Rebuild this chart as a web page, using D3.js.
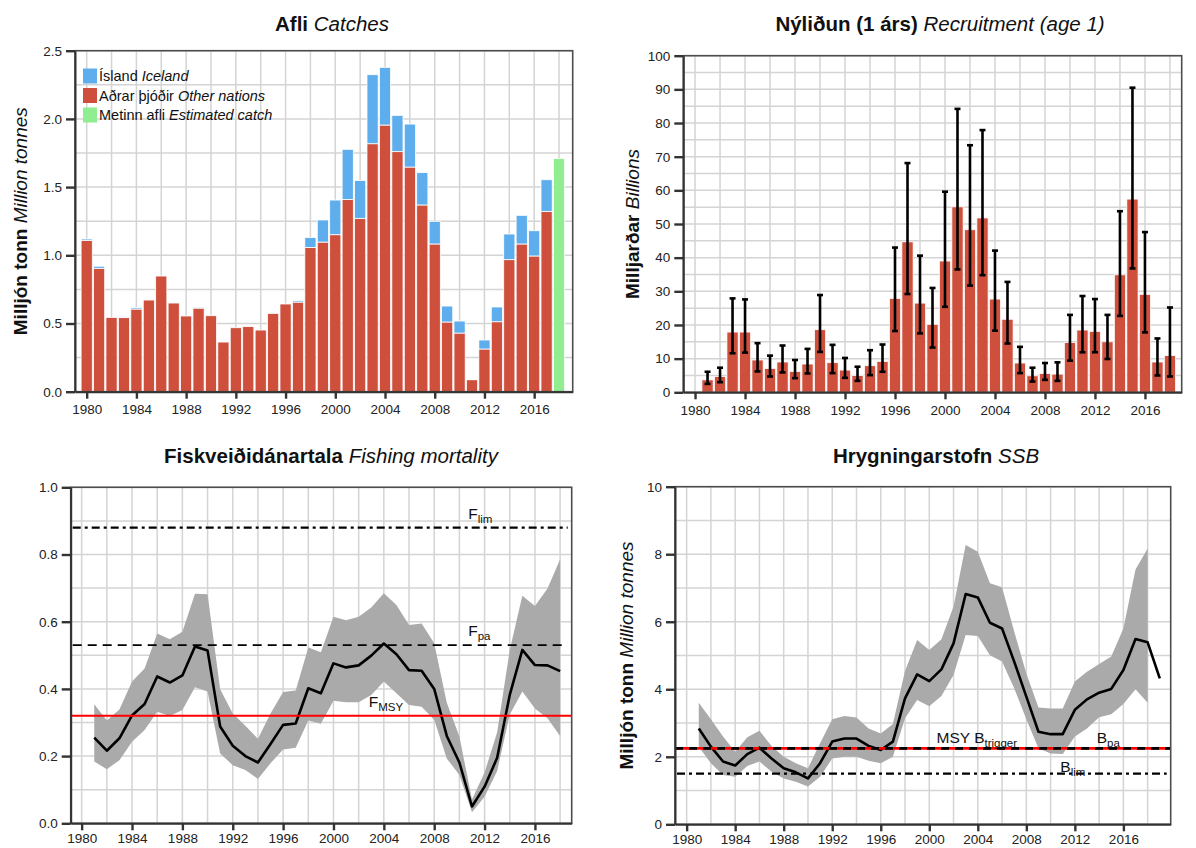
<!DOCTYPE html>
<html>
<head>
<meta charset="utf-8">
<script src="https://cdn.jsdelivr.net/npm/d3@7"></script>
<style>
  body { margin: 0; background: #fff; }
  svg { display: block; font-family: "Liberation Sans", Arial, Helvetica, sans-serif; }
</style>
</head>
<body>
<svg id="chart" width="1196" height="848"></svg>
<script>
// ---- data ----
const catchYears = [1980,1981,1982,1983,1984,1985,1986,1987,1988,1989,1990,1991,1992,1993,1994,1995,1996,1997,1998,1999,
  2000,2001,2002,2003,2004,2005,2006,2007,2008,2009,2010,2011,2012,2013,2014,2015,2016,2017]
const otherNations = [1.11,0.905,0.545,0.543,0.606,0.672,0.848,0.65,0.555,0.613,0.557,0.364,0.469,0.477,0.452,0.574,0.643,0.657,1.058,1.097,
  1.151,1.41,1.271,1.818,1.955,1.76,1.647,1.369,1.083,0.511,0.43,0.088,0.313,0.513,0.968,1.083,0.995,1.322]
const iceland = [0.01,0.015,0,0.007,0.01,0,0,0,0,0.007,0,0,0,0,0,0,0,0.01,0.073,0.162,
  0.254,0.367,0.278,0.506,0.423,0.266,0.315,0.237,0.166,0.117,0.088,0.005,0.066,0.108,0.188,0.21,0.185,0.232]
const estYears = [2018]
const estCatch = [1.71]

const recYears = [1981,1982,1983,1984,1985,1986,1987,1988,1989,1990,1991,1992,1993,1994,1995,1996,1997,1998,1999,2000,
  2001,2002,2003,2004,2005,2006,2007,2008,2009,2010,2011,2012,2013,2014,2015,2016,2017,2018]
const recruits = [3.7,4.7,17.9,17.9,9.6,7.1,9.0,6.2,8.4,18.6,8.8,6.6,5.0,7.9,9.2,27.9,44.7,26.5,20.2,39.0,
  55.1,48.3,51.8,27.7,21.7,8.7,4.9,5.6,5.4,14.8,18.5,18.1,15.0,34.9,57.4,29.1,9.0,10.9]
const recHigh = [6.1,7.3,27.9,27.6,14.6,10.9,13.9,9.6,12.9,28.9,14.1,10.2,7.6,12.5,14.2,43.0,68.1,40.6,31.0,59.6,
  84.2,73.4,77.9,42.1,32.8,13.5,7.3,8.7,8.9,23.0,28.6,27.7,23.0,53.8,90.5,47.6,16.0,25.2]
const recLow = [2.5,3.0,11.6,11.8,6.2,4.7,5.9,4.2,5.6,12.0,5.7,4.3,3.4,5.1,6.1,18.2,29.2,17.5,13.3,25.4,
  36.5,31.7,34.8,18.3,14.5,5.7,3.2,3.7,3.4,9.4,11.9,11.9,9.9,22.7,36.8,17.8,5.0,4.7]

const fYears = recYears
const fbar = [0.255,0.216,0.253,0.321,0.355,0.437,0.419,0.44,0.526,0.514,0.288,0.231,0.2,0.181,0.236,0.293,0.297,0.402,0.387,0.476,
  0.464,0.47,0.499,0.535,0.503,0.456,0.454,0.4,0.26,0.181,0.05,0.109,0.195,0.382,0.516,0.471,0.47,0.453]
const fHigh = [0.354,0.306,0.339,0.422,0.461,0.565,0.548,0.57,0.683,0.682,0.399,0.327,0.29,0.252,0.327,0.391,0.395,0.523,0.509,0.615,
  0.604,0.615,0.642,0.685,0.65,0.59,0.595,0.536,0.359,0.258,0.071,0.151,0.271,0.516,0.677,0.647,0.699,0.786]
const fLow = [0.184,0.161,0.188,0.243,0.278,0.332,0.319,0.337,0.405,0.392,0.208,0.173,0.159,0.132,0.179,0.22,0.225,0.306,0.296,0.365,
  0.36,0.36,0.382,0.422,0.387,0.352,0.347,0.308,0.193,0.144,0.033,0.079,0.156,0.324,0.392,0.342,0.313,0.26]
const fRefs = { Flim: 0.88, Fpa: 0.53, Fmsy: 0.32 }

const ssbYears = [1981,1982,1983,1984,1985,1986,1987,1988,1989,1990,1991,1992,1993,1994,1995,1996,1997,1998,1999,2000,
  2001,2002,2003,2004,2005,2006,2007,2008,2009,2010,2011,2012,2013,2014,2015,2016,2017,2018,2019]
const ssb = [2.84,2.3,1.86,1.74,2.08,2.27,1.95,1.66,1.54,1.36,1.81,2.45,2.54,2.54,2.32,2.2,2.45,3.73,4.44,4.24,
  4.59,5.36,6.82,6.72,5.97,5.8,4.82,3.78,2.74,2.67,2.67,3.39,3.7,3.9,4.01,4.57,5.49,5.39,4.32]
const ssbHigh = [3.6,3.11,2.6,2.15,2.58,2.77,2.32,2.0,1.81,1.66,2.4,3.11,3.21,3.16,2.84,2.69,2.97,4.54,5.46,5.16,
  5.48,6.45,8.27,8.07,7.14,7.02,5.71,4.47,3.46,3.43,3.43,4.23,4.52,4.75,4.97,5.8,7.55,8.17]
const ssbLow = [2.3,1.81,1.46,1.41,1.73,1.86,1.56,1.36,1.26,1.12,1.41,1.95,2.0,2.0,1.88,1.81,2.0,3.14,3.68,3.5,
  3.8,4.42,5.61,5.58,5.01,4.82,4.03,3.11,2.25,2.1,2.08,2.6,2.84,3.17,3.26,3.56,4.0,3.6]
const bRefs = { Btrigger: 2.25, Blim: 1.5 }

const yearTicks = [1980,1984,1988,1992,1996,2000,2004,2008,2012,2016]

const red = "#cd4f3c", blue = "#5eadec", green = "#90ee90", band = "#aaaaaa"

const svg = d3.select("#chart")

function panel(c) {
  const x = d3.scaleLinear().domain(c.xDomain).range([c.left, c.right])
  const y = d3.scaleLinear().domain(c.yDomain).range([c.bottom, c.top])
  const g = svg.append("g")

  // grid
  const vgrid = d3.range(1980, c.xDomain[1], 2)
  const hgrid = d3.range(c.yDomain[0], c.yDomain[1] + 1e-9, c.gridStep)
  g.selectAll(".vg").data(vgrid).join("line")
    .attr("x1", d => x(d)).attr("x2", d => x(d))
    .attr("y1", c.top).attr("y2", c.bottom)
    .attr("stroke", "#d4d4d4").attr("stroke-width", 1.5)
  g.selectAll(".hg").data(hgrid).join("line")
    .attr("x1", c.left).attr("x2", c.right)
    .attr("y1", d => y(d)).attr("y2", d => y(d))
    .attr("stroke", "#d4d4d4").attr("stroke-width", 1.5)

  const marks = g.append("g")

  // frame
  g.append("rect")
    .attr("x", c.left).attr("y", c.top)
    .attr("width", c.right - c.left).attr("height", c.bottom - c.top)
    .attr("fill", "none").attr("stroke", "#4d4d4d").attr("stroke-width", 1.6)

  const xa = g.append("g").attr("transform", `translate(0,${c.bottom})`)
    .call(d3.axisBottom(x).tickValues(yearTicks).tickFormat(d3.format("d")).tickSize(7).tickPadding(c.xPad || 6).tickSizeOuter(0))
  const ya = g.append("g").attr("transform", `translate(${c.left},0)`)
    .call(d3.axisLeft(y).tickValues(c.yTicks).tickFormat(c.yFormat).tickSize(9).tickPadding(4).tickSizeOuter(0))
  ;[xa, ya].forEach(a => {
    a.select(".domain").attr("stroke", "#333").attr("stroke-width", 2)
    a.selectAll(".tick line").attr("stroke", "#333").attr("stroke-width", 2.4)
    a.selectAll(".tick text").attr("fill", "#222").style("font-size", "13.5px")
      .style("font-family", "Liberation Sans, Arial, sans-serif")
  })

  // title
  const t = svg.append("text").attr("x", c.titleX).attr("y", c.titleY)
    .attr("text-anchor", "middle").attr("fill", "#111").style("font-size", "20.5px")
  t.append("tspan").attr("font-weight", "bold").text(c.title[0])
  t.append("tspan").attr("font-style", "italic").text(" " + c.title[1])

  if (c.ylabel) {
    const l = svg.append("text")
      .attr("transform", `translate(${c.ylabelX},${(c.top + c.bottom) / 2}) rotate(-90)`)
      .attr("text-anchor", "middle").attr("fill", "#111").style("font-size", "19px")
    l.append("tspan").attr("font-weight", "bold").text(c.ylabel[0])
    l.append("tspan").attr("font-style", "italic").text(" " + c.ylabel[1])
  }
  return { x, y, g: marks }
}

function subLabel(g, px, py, main, sub) {
  const t = g.append("text").attr("x", px).attr("y", py).attr("fill", "#111").style("font-size", "15.5px")
  t.append("tspan").text(main)
  t.append("tspan").attr("dy", 4).style("font-size", "11.5px").text(sub)
}

// ---- Afli / Catches ----
{
  const p = panel({
    left: 75, right: 572.7, top: 50.7, bottom: 391.7,
    xDomain: [1979.06, 2019.1], yDomain: [0, 2.5], gridStep: 0.25,
    yTicks: [0, 0.5, 1, 1.5, 2, 2.5], yFormat: d3.format(".1f"),
    title: ["Afli", "Catches"], titleX: 332, titleY: 31,
    ylabel: ["Milljón tonn", "Million tonnes"], ylabelX: 27
  })
  const bw = 0.45
  p.g.selectAll(".other").data(catchYears).join("rect")
    .attr("x", d => p.x(d - bw)).attr("width", 2 * (p.x(bw) - p.x(0)))
    .attr("y", (d, i) => p.y(otherNations[i]))
    .attr("height", (d, i) => p.y(0) - p.y(otherNations[i]))
    .attr("fill", red).attr("stroke", "#fff").attr("stroke-width", 0.8)
  p.g.selectAll(".ice").data(catchYears).join("rect")
    .attr("x", d => p.x(d - bw)).attr("width", 2 * (p.x(bw) - p.x(0)))
    .attr("y", (d, i) => p.y(otherNations[i] + iceland[i]))
    .attr("height", (d, i) => p.y(otherNations[i]) - p.y(otherNations[i] + iceland[i]))
    .attr("fill", blue).attr("stroke", "#fff").attr("stroke-width", 0.8)
  p.g.selectAll(".est").data(estYears).join("rect")
    .attr("x", d => p.x(d - bw)).attr("width", 2 * (p.x(bw) - p.x(0)))
    .attr("y", (d, i) => p.y(estCatch[i]))
    .attr("height", (d, i) => p.y(0) - p.y(estCatch[i]))
    .attr("fill", green).attr("stroke", "#fff").attr("stroke-width", 0.8)

  const legend = [
    [blue, "Ísland", "Iceland"],
    [red, "Aðrar þjóðir", "Other nations"],
    [green, "Metinn afli", "Estimated catch"]
  ]
  const lg = svg.append("g")
  legend.forEach((d, i) => {
    const cy = 76 + i * 19.5
    lg.append("rect").attr("x", 83).attr("y", cy - 7.5).attr("width", 14).attr("height", 15).attr("fill", d[0])
    const t = lg.append("text").attr("x", 99).attr("y", cy + 5).attr("fill", "#111").style("font-size", "14.5px")
    t.append("tspan").text(d[1])
    t.append("tspan").attr("font-style", "italic").text(" " + d[2])
  })
}

// ---- Nýliðun / Recruitment ----
{
  const p = panel({
    left: 683.3, right: 1181.7, top: 55.7, bottom: 392.3,
    xDomain: [1979.06, 2018.94], yDomain: [0, 100], gridStep: 5,
    yTicks: [0, 10, 20, 30, 40, 50, 60, 70, 80, 90, 100], yFormat: d3.format("d"),
    title: ["Nýliðun (1 árs)", "Recruitment (age 1)"], titleX: 940, titleY: 31,
    ylabel: ["Milljarðar", "Billions"], ylabelX: 639
  })
  const bw = 0.45
  p.g.selectAll(".rec").data(recYears).join("rect")
    .attr("x", d => p.x(d - bw)).attr("width", 2 * (p.x(bw) - p.x(0)))
    .attr("y", (d, i) => p.y(recruits[i]))
    .attr("height", (d, i) => p.y(0) - p.y(recruits[i]))
    .attr("fill", red).attr("stroke", "#fff").attr("stroke-width", 0.8)
  const cap = 0.24
  const eb = p.g.selectAll(".err").data(recYears).join("g")
  eb.append("line")
    .attr("x1", d => p.x(d)).attr("x2", d => p.x(d))
    .attr("y1", (d, i) => p.y(recLow[i])).attr("y2", (d, i) => p.y(recHigh[i]))
    .attr("stroke", "#000").attr("stroke-width", 2.6)
  eb.append("line")
    .attr("x1", d => p.x(d - cap)).attr("x2", d => p.x(d + cap))
    .attr("y1", (d, i) => p.y(recLow[i])).attr("y2", (d, i) => p.y(recLow[i]))
    .attr("stroke", "#000").attr("stroke-width", 2.6)
  eb.append("line")
    .attr("x1", d => p.x(d - cap)).attr("x2", d => p.x(d + cap))
    .attr("y1", (d, i) => p.y(recHigh[i])).attr("y2", (d, i) => p.y(recHigh[i]))
    .attr("stroke", "#000").attr("stroke-width", 2.6)
}

// ---- Fiskveiðidánartala / Fishing mortality ----
{
  const p = panel({
    left: 70.7, right: 571.7, top: 487.3, bottom: 823.3,
    xDomain: [1979.13, 2018.92], yDomain: [0, 1], gridStep: 0.1,
    yTicks: [0, 0.2, 0.4, 0.6, 0.8, 1.0], yFormat: d3.format(".1f"),
    title: ["Fiskveiðidánartala", "Fishing mortality"], titleX: 331, titleY: 463, xPad: 3
  })
  const area = d3.area().x((d, i) => p.x(fYears[i])).y0((d, i) => p.y(fLow[i])).y1((d, i) => p.y(fHigh[i]))
  p.g.append("path").datum(fbar).attr("d", area).attr("fill", band)
  const line = d3.line().x((d, i) => p.x(fYears[i])).y(d => p.y(d))
  p.g.append("path").datum(fbar).attr("d", line).attr("fill", "none")
    .attr("stroke", "#000").attr("stroke-width", 2.6).attr("stroke-linejoin", "round")

  const x0 = p.x.range()[0] + 2, x1 = p.x.range()[1] - 4
  p.g.append("line").attr("x1", x0).attr("x2", x1)
    .attr("y1", p.y(fRefs.Flim)).attr("y2", p.y(fRefs.Flim))
    .attr("stroke", "#000").attr("stroke-width", 2.4).attr("stroke-dasharray", "8,4,3,4")
  p.g.append("line").attr("x1", x0).attr("x2", x1)
    .attr("y1", p.y(fRefs.Fpa)).attr("y2", p.y(fRefs.Fpa))
    .attr("stroke", "#000").attr("stroke-width", 1.8).attr("stroke-dasharray", "9,6")
  p.g.append("line").attr("x1", p.x.range()[0]).attr("x2", p.x.range()[1])
    .attr("y1", p.y(fRefs.Fmsy)).attr("y2", p.y(fRefs.Fmsy))
    .attr("stroke", "#ff0000").attr("stroke-width", 2)
  subLabel(p.g, p.x(2010.7), p.y(fRefs.Flim) - 9, "F", "lim")
  subLabel(p.g, p.x(2010.7), p.y(fRefs.Fpa) - 9, "F", "pa")
  subLabel(p.g, p.x(2002.8), p.y(fRefs.Fmsy) - 9, "F", "MSY")
}

// ---- Hrygningarstofn / SSB ----
{
  const p = panel({
    left: 675, right: 1170.7, top: 486.7, bottom: 824.3,
    xDomain: [1979.04, 2019.9], yDomain: [0, 10], gridStep: 1,
    yTicks: [0, 2, 4, 6, 8, 10], yFormat: d3.format("d"),
    title: ["Hrygningarstofn", "SSB"], titleX: 936, titleY: 463,
    ylabel: ["Milljón tonn", "Million tonnes"], ylabelX: 633, xPad: 3
  })
  const area = d3.area().x((d, i) => p.x(ssbYears[i])).y0((d, i) => p.y(ssbLow[i])).y1(d => p.y(d))
  p.g.append("path").datum(ssbHigh).attr("d", area).attr("fill", band)
  const line = d3.line().x((d, i) => p.x(ssbYears[i])).y(d => p.y(d))
  p.g.append("path").datum(ssb).attr("d", line).attr("fill", "none")
    .attr("stroke", "#000").attr("stroke-width", 2.6).attr("stroke-linejoin", "round")

  const x0 = p.x.range()[0], x1 = p.x.range()[1]
  p.g.append("line").attr("x1", x0).attr("x2", x1)
    .attr("y1", p.y(bRefs.Btrigger)).attr("y2", p.y(bRefs.Btrigger))
    .attr("stroke", "#ff0000").attr("stroke-width", 2.6)
  p.g.append("line").attr("x1", x0).attr("x2", x1)
    .attr("y1", p.y(bRefs.Btrigger)).attr("y2", p.y(bRefs.Btrigger))
    .attr("stroke", "#000").attr("stroke-width", 2.6).attr("stroke-dasharray", "8,6")
  p.g.append("line").attr("x1", x0 + 2).attr("x2", x1 - 4)
    .attr("y1", p.y(bRefs.Blim)).attr("y2", p.y(bRefs.Blim))
    .attr("stroke", "#000").attr("stroke-width", 2.4).attr("stroke-dasharray", "8,4,3,4")
  subLabel(p.g, p.x(2000.6), p.y(bRefs.Btrigger) - 5, "MSY B", "trigger")
  subLabel(p.g, p.x(2013.8), p.y(bRefs.Btrigger) - 5, "B", "pa")
  subLabel(p.g, p.x(2010.8), p.y(bRefs.Blim) - 2, "B", "lim")
}
</script>
</body>
</html>
